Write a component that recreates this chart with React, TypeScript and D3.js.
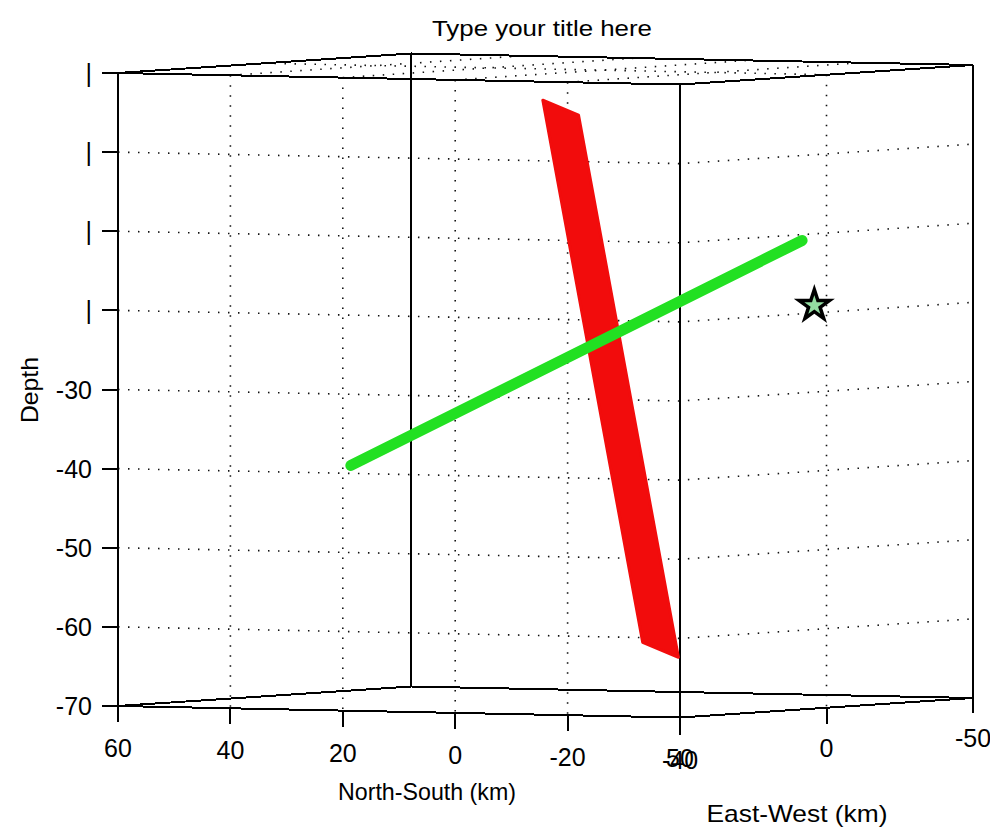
import React from 'react';
import * as d3 from 'd3';

// ---- chart content ----
const title = 'Type your title here';
const nsTicks = [60, 40, 20, 0, -20, -40];
const nsTickLabels = ['60', '40', '20', '0', '-20', '-40'];
const ewTicks = [50, 0, -50];
const ewTickLabels = ['50', '0', '-50'];
const depthTicks = [10, 0, -10, -20, -30, -40, -50, -60, -70];
const depthTickLabels = ['|', '|', '|', '|', '-30', '-40', '-50', '-60', '-70'];
const nsGrid = [40, 20, 0, -20];
const ewGrid = [0];
const depthGrid = [0, -10, -20, -30, -40, -50, -60];

// fault plane corners (NS km, EW km, depth km)
const faultNS = [35.5, 0, -38.1, -2.6];
const faultEW = [-48, 7.9, 46.9, -9];
const faultDepth = [4.5, 4.5, -62.5, -62.5];

// lineament end points
const lineNS = [31.6, -14.8];
const lineEW = [25, -40];
const lineDepth = [-39.8, -12.3];

// epicentre marker
const starNS = [-24.8];
const starEW = [-25];
const starDepth = [-20];

const W = 990;
const H = 831;
const FONT = '"Liberation Sans", Arial, sans-serif';

// oblique box projection built from linear scales
const ox = 118;
const nsX = d3.scaleLinear().domain([60, -40]).range([0, 562]);
const nsY = d3.scaleLinear().domain([60, -40]).range([0, 11.5]);
const ewX = d3.scaleLinear().domain([50, -50]).range([0, 293]);
const ewY = d3.scaleLinear().domain([50, -50]).range([0, -19.5]);
const depthY = d3.scaleLinear().domain([10, -70]).range([73, 706]);

type P = [number, number];
const proj = (ns: number, ew: number, d: number): P => [
  ox + nsX(ns) + ewX(ew),
  depthY(d) + nsY(ns) + ewY(ew),
];

const line = d3.line<P>();

const NS0 = 60, NS1 = -40, EW0 = 50, EW1 = -50, D0 = 10, D1 = -70;

function face(d: number): string {
  return (
    line([
      proj(NS0, EW0, d),
      proj(NS1, EW0, d),
      proj(NS1, EW1, d),
      proj(NS0, EW1, d),
    ]) + 'Z'
  );
}

export default function App() {
  const corners: [number, number, number][] = [
    [NS0, EW0, 0],
    [NS0, EW1, 0],
    [NS1, EW0, 0],
    [NS1, EW1, 0],
  ];
  const tickExt: number[] = [16, 0, 17, 15];

  const faultPts: P[] = faultNS.map((n, i) => proj(n, faultEW[i], faultDepth[i]));
  const linePts: P[] = lineNS.map((n, i) => proj(n, lineEW[i], lineDepth[i]));
  const starPts: P[] = starNS.map((n, i) => proj(n, starEW[i], starDepth[i]));
  const star = d3.symbol().type(d3.symbolStar).size(285)();

  const dotted = { stroke: '#111', strokeWidth: 1.6, strokeDasharray: '1.5 8.5', fill: 'none' };
  const solid = { stroke: '#000', strokeWidth: 2, fill: 'none', shapeRendering: 'crispEdges' as const };

  return (
    <svg
      width={W}
      height={H}
      style={{ position: 'absolute', left: 0, top: 0, background: '#fff' }}
      fontFamily={FONT}
    >
      <rect width={W} height={H} fill="#fff" />

      {/* title */}
      <text x={542} y={36} textAnchor="middle" fontSize={22} textLength={220} lengthAdjust="spacingAndGlyphs">
        {title}
      </text>

      {/* depth grid on the front faces */}
      {depthGrid.map((d) => (
        <path key={'dg' + d} d={line([proj(NS0, EW0, d), proj(NS1, EW0, d), proj(NS1, EW1, d)]) || ''} {...dotted} />
      ))}
      {/* NS grid: front-left face and top face */}
      {nsGrid.map((n) => (
        <g key={'ng' + n}>
          <path d={line([proj(n, EW0, D0), proj(n, EW0, D1)]) || ''} {...dotted} />
          <path d={line([proj(n, EW0, D0), proj(n, EW1, D0)]) || ''} {...dotted} />
        </g>
      ))}
      {/* EW grid: front-right face and top face */}
      {ewGrid.map((e) => (
        <g key={'eg' + e}>
          <path d={line([proj(NS1, e, D0), proj(NS1, e, D1)]) || ''} {...dotted} />
          <path d={line([proj(NS0, e, D0), proj(NS1, e, D0)]) || ''} {...dotted} />
        </g>
      ))}

      {/* box */}
      <path d={face(D0)} {...solid} />
      <path d={face(D1)} {...solid} />
      {corners.map(([n, e], i) => {
        const top = proj(n, e, D0);
        const bot = proj(n, e, D1);
        return (
          <path key={'c' + i} d={line([top, [bot[0], bot[1] + tickExt[i]]]) || ''} {...solid} />
        );
      })}

      {/* depth axis */}
      {depthTicks.map((d, i) => {
        const [x, y] = proj(NS0, EW0, d);
        return (
          <g key={'dt' + d}>
            <path d={line([[x - 16, y], [x, y]]) || ''} {...solid} />
            <text x={x - 26} y={y + 9} textAnchor="end" fontSize={25}>
              {depthTickLabels[i]}
            </text>
          </g>
        );
      })}

      {/* NS axis along the front-left bottom edge */}
      {nsTicks.map((n, i) => {
        const [x, y] = proj(n, EW0, D1);
        return (
          <g key={'nt' + n}>
            {n !== NS0 && n !== NS1 && <path d={line([[x, y], [x, y + 16]]) || ''} {...solid} />}
            <text x={x} y={y + 51} textAnchor="middle" fontSize={25}>
              {nsTickLabels[i]}
            </text>
          </g>
        );
      })}

      {/* EW axis along the front-right bottom edge */}
      {ewTicks.map((e, i) => {
        const [x, y] = proj(NS1, e, D1);
        return (
          <g key={'et' + e}>
            {e !== EW0 && e !== EW1 && <path d={line([[x, y], [x, y + 16]]) || ''} {...solid} />}
            <text x={x} y={y + 49} textAnchor="middle" fontSize={25}>
              {ewTickLabels[i]}
            </text>
          </g>
        );
      })}

      {/* axis titles */}
      <text
        transform="translate(38,390) rotate(-90)"
        textAnchor="middle"
        fontSize={24}
        textLength={66}
        lengthAdjust="spacingAndGlyphs"
      >
        Depth
      </text>
      <text x={427} y={800} textAnchor="middle" fontSize={24} textLength={178} lengthAdjust="spacingAndGlyphs">
        North-South (km)
      </text>
      <text x={797} y={822} textAnchor="middle" fontSize={24} textLength={181} lengthAdjust="spacingAndGlyphs">
        East-West (km)
      </text>

      {/* fault plane */}
      <path
        d={line(faultPts) + 'Z'}
        fill="#f20c0c"
        stroke="#f20c0c"
        strokeWidth={3}
        strokeLinejoin="round"
      />

      {/* lineament */}
      <path d={line(linePts) || ''} stroke="#22e022" strokeWidth={11} strokeLinecap="round" fill="none" />

      {/* epicentre */}
      {starPts.map(([x, y], i) => (
        <path
          key={'s' + i}
          d={star || ''}
          transform={`translate(${x},${y})`}
          fill="#93dca2"
          stroke="#000"
          strokeWidth={3.5}
          strokeLinejoin="miter"
        />
      ))}
    </svg>
  );
}
